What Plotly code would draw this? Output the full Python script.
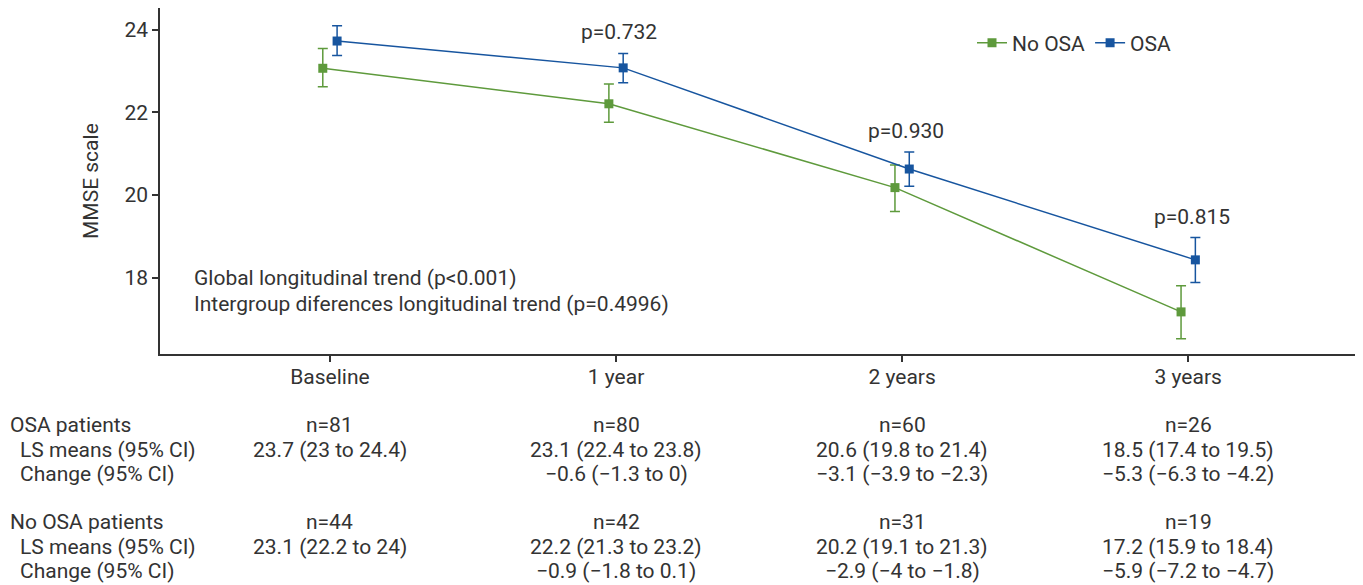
import plotly.graph_objects as go

# ---------------- data ----------------
categories = ["Baseline", "1 year", "2 years", "3 years"]

osa_mean = [23.73, 23.08, 20.63, 18.43]
osa_upper = [24.10, 23.43, 21.04, 18.97]
osa_lower = [23.38, 22.72, 20.21, 17.88]

noosa_mean = [23.07, 22.21, 20.18, 17.17]
noosa_upper = [23.55, 22.69, 20.73, 17.80]
noosa_lower = [22.62, 21.76, 19.60, 16.52]

p_values = ["", "p=0.732", "p=0.930", "p=0.815"]

osa_n = ["n=81", "n=80", "n=60", "n=26"]
osa_ls = ["23.7 (23 to 24.4)", "23.1 (22.4 to 23.8)", "20.6 (19.8 to 21.4)", "18.5 (17.4 to 19.5)"]
osa_change = ["", "\u22120.6 (\u22121.3 to 0)", "\u22123.1 (\u22123.9 to \u22122.3)", "\u22125.3 (\u22126.3 to \u22124.2)"]

noosa_n = ["n=44", "n=42", "n=31", "n=19"]
noosa_ls = ["23.1 (22.2 to 24)", "22.2 (21.3 to 23.2)", "20.2 (19.1 to 21.3)", "17.2 (15.9 to 18.4)"]
noosa_change = ["", "\u22120.9 (\u22121.8 to 0.1)", "\u22122.9 (\u22124 to \u22121.8)", "\u22125.9 (\u22127.2 to \u22124.7)"]

row_labels = ["OSA patients", " LS means (95% CI)", " Change (95% CI)",
              "No OSA patients", " LS means (95% CI)", " Change (95% CI)"]

notes = ["Global longitudinal trend (p<0.001)",
         "Intergroup diferences longitudinal trend (p=0.4996)"]

# ---------------- style ----------------
GREEN = "#5e9a3c"
BLUE = "#17559f"
TXT = "#333333"
FONT = "Roboto"
FS = 21

# page has an 8px body margin; plot area in screen pixels: x 160..1357, y 8..354
OFF = 8
W, H = 1363 - OFF, 585 - OFF
PL, PR, PT, PB = 160, 1357, 8, 354
PW = PR - PL
PH = PB - PT
ML, MR, MT = PL - OFF, 1363 - PR, PT - OFF
MB = H - MT - PH


def px_x(px):
    return (px - PL) / PW


def px_y(py):
    return (PB - py) / PH


off = 0.025
idx = list(range(len(categories)))

fig = go.Figure()

fig.add_trace(go.Scatter(
    x=[i - off for i in idx], y=noosa_mean, name="No OSA",
    mode="lines+markers",
    line=dict(color=GREEN, width=1.5),
    marker=dict(symbol="square", size=9, color=GREEN),
    error_y=dict(type="data", symmetric=False,
                 array=[u - m for u, m in zip(noosa_upper, noosa_mean)],
                 arrayminus=[m - l for m, l in zip(noosa_mean, noosa_lower)],
                 color=GREEN, thickness=1.5, width=5),
))
fig.add_trace(go.Scatter(
    x=[i + off for i in idx], y=osa_mean, name="OSA",
    mode="lines+markers",
    line=dict(color=BLUE, width=1.5),
    marker=dict(symbol="square", size=9, color=BLUE),
    error_y=dict(type="data", symmetric=False,
                 array=[u - m for u, m in zip(osa_upper, osa_mean)],
                 arrayminus=[m - l for m, l in zip(osa_mean, osa_lower)],
                 color=BLUE, thickness=1.5, width=5),
))

ann = []
# p-values
for i, p in enumerate(p_values):
    if p:
        ann.append(dict(x=i + 0.012, y=osa_upper[i], xref="x", yref="y",
                        text=p, showarrow=False, yanchor="middle", yshift=21,
                        font=dict(family=FONT, size=FS, color=TXT)))
# notes
for k, t in enumerate(notes):
    ann.append(dict(x=px_x(192), y=px_y(278 + 26 * k), xref="paper", yref="paper",
                    text=t, showarrow=False, xanchor="left", yanchor="middle",
                    font=dict(family=FONT, size=FS, color=TXT)))
# y title
ann.append(dict(x=px_x(91), y=0.5, xref="paper", yref="paper", text="MMSE scale",
                textangle=-90, showarrow=False, xanchor="center", yanchor="middle",
                font=dict(family=FONT, size=FS, color=TXT)))

# table
row_y = [425, 449.5, 474, 522, 546.5, 571]
rows = [osa_n, osa_ls, osa_change, noosa_n, noosa_ls, noosa_change]
for r, (lab, yy) in enumerate(zip(row_labels, row_y)):
    xpix = 8 if not lab.startswith(" ") else 18
    ann.append(dict(x=px_x(xpix), y=px_y(yy), xref="paper", yref="paper",
                    text=lab.strip(), showarrow=False, xanchor="left", yanchor="middle",
                    font=dict(family=FONT, size=FS, color=TXT)))
    for i, t in enumerate(rows[r]):
        if t:
            ann.append(dict(x=i, y=px_y(yy), xref="x", yref="paper",
                            text=t, showarrow=False, xanchor="center", yanchor="middle",
                            font=dict(family=FONT, size=FS, color=TXT)))

fig.update_layout(
    width=W, height=H,
    margin=dict(l=ML, r=MR, t=MT, b=MB, pad=0),
    plot_bgcolor="white", paper_bgcolor="white",
    font=dict(family=FONT, size=FS, color=TXT),
    showlegend=True,
    legend=dict(orientation="h", x=px_x(972), y=px_y(43), xanchor="left", yanchor="middle",
                font=dict(family=FONT, size=FS, color=TXT), bgcolor="rgba(0,0,0,0)",
                itemwidth=30),
    xaxis=dict(range=[-0.594, 3.59], tickmode="array", tickvals=idx, ticktext=categories,
               showline=True, linecolor=TXT, linewidth=1.5, ticks="outside",
               ticklen=6, tickwidth=1.5, tickcolor=TXT, showgrid=False, zeroline=False,
               ticklabelstandoff=-3,
               tickfont=dict(family=FONT, size=FS, color=TXT)),
    yaxis=dict(range=[16.15, 24.53], tickmode="array", tickvals=[18, 20, 22, 24],
               showline=True, linecolor=TXT, linewidth=1.5, ticks="outside",
               ticklen=6, tickwidth=1.5, tickcolor=TXT, showgrid=False, zeroline=False,
               tickfont=dict(family=FONT, size=FS, color=TXT)),
    annotations=ann,
)

fig.write_html("out.html")
